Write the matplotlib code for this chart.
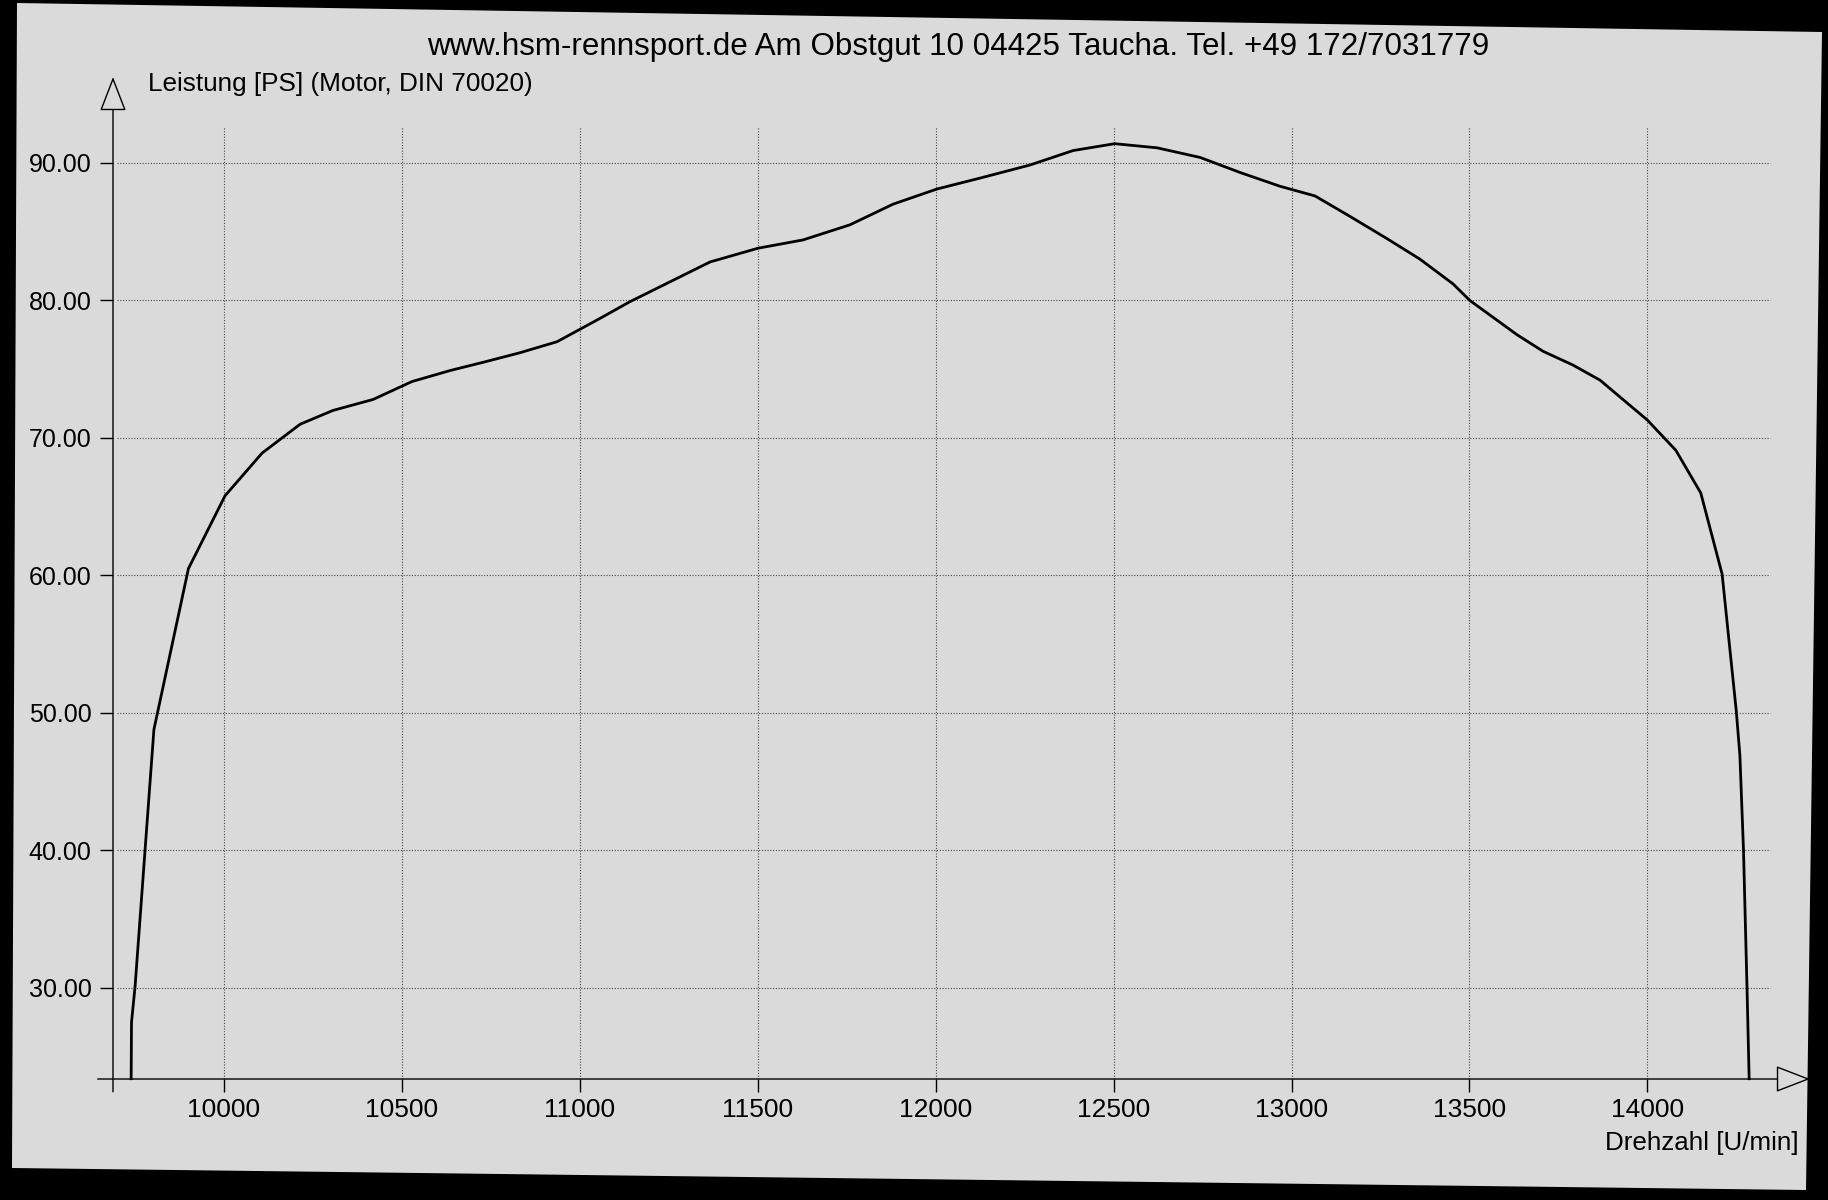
import matplotlib
matplotlib.use("Agg")
import matplotlib.pyplot as plt
from matplotlib.patches import Polygon, ArrowStyle

plt.rcParams["font.family"] = ["Liberation Sans", "DejaVu Sans"]

rpm = [9739, 9740, 9750, 9778, 9803, 9900, 10003, 10107, 10214, 10306,
       10419, 10528, 10635, 10728, 10832, 10936, 11057, 11140, 11366, 11501,
       11627, 11759, 11880, 12003, 12125, 12265, 12386, 12503, 12622, 12743,
       12856, 12968, 13066, 13165, 13268, 13361, 13454, 13501, 13634, 13707,
       13791, 13867, 14000, 14080, 14150, 14210, 14250, 14260, 14270, 14280,
       14286]
ps = [23.4, 27.5, 30.1, 40.0, 48.8, 60.5, 65.8, 68.9, 71.0, 72.0,
      72.8, 74.1, 74.9, 75.5, 76.2, 77.0, 78.7, 79.9, 82.8, 83.8,
      84.4, 85.5, 87.0, 88.1, 88.9, 89.85, 90.9, 91.4, 91.1, 90.4,
      89.3, 88.3, 87.6, 86.1, 84.5, 83.0, 81.2, 80.0, 77.5, 76.3,
      75.3, 74.2, 71.3, 69.1, 66.0, 60.1, 50.1, 46.9, 40.1, 30.0,
      23.4]

x_ticks = [10000, 10500, 11000, 11500, 12000, 12500, 13000, 13500, 14000]
y_ticks = [30, 40, 50, 60, 70, 80, 90]

title = "www.hsm-rennsport.de Am Obstgut 10 04425 Taucha. Tel. +49 172/7031779"
ylabel = "Leistung [PS] (Motor, DIN 70020)"
xlabel = "Drehzahl [U/min]"

W, H = 1828, 1200
paper = "#dadada"
xmin, xmax = 9688, 14457
ymin, ymax = 23.38, 96.25

fig = plt.figure(figsize=(W / 100, H / 100), dpi=100, facecolor="black")

# gescanntes Blatt auf schwarzem Grund
corners = [(17, 3), (1822, 32), (1806, 1190), (12, 1168)]
fig.add_artist(Polygon([(x / W, 1 - y / H) for x, y in corners],
                       closed=True, transform=fig.transFigure,
                       fc=paper, ec="none", zorder=0))

ax = fig.add_axes([113 / W, 1 - 1079 / H, (1810 - 113) / W, (1079 - 77) / H])
ax.set_facecolor("none")
ax.set_xlim(xmin, xmax)
ax.set_ylim(ymin, ymax)
for s in ax.spines.values():
    s.set_visible(False)

ax.set_xticks(x_ticks)
ax.set_xticklabels([str(t) for t in x_ticks], fontsize=19)
ax.set_yticks(y_ticks)
ax.set_yticklabels([f"{t:.2f}" for t in y_ticks], fontsize=18)
ax.tick_params(axis="both", direction="out", length=9.5, width=1,
               color="black", labelcolor="black")
ax.tick_params(axis="x", pad=4)
ax.tick_params(axis="y", pad=6)

# gepunktetes Gitter
ax.hlines(y_ticks, 9700, 14345, colors="#4a4a4a", lw=0.8,
          linestyles=(0, (1, 1.5)), zorder=1)
ax.vlines(x_ticks, ymin, 92.6, colors="#4a4a4a", lw=0.8,
          linestyles=(0, (1, 1.5)), zorder=1)

# Achsen mit offenen Pfeilspitzen
head = ArrowStyle("-|>", head_length=2.2, head_width=0.85)
arrow_kw = dict(arrowstyle=head, mutation_scale=10, fc=paper, ec="black",
                lw=1, shrinkA=0, shrinkB=0)
ax.annotate("", xy=(xmax, ymin), xytext=(9645, ymin),
            arrowprops=arrow_kw, annotation_clip=False, zorder=5)
ax.annotate("", xy=(xmin, ymax), xytext=(xmin, 22.45),
            arrowprops=arrow_kw, annotation_clip=False, zorder=5)

ax.plot(rpm, ps, color="black", lw=2.0, zorder=4, clip_on=False)

fig.text(958 / W, 1 - 47 / H, title, ha="center", va="center", fontsize=22.6)
fig.text(148 / W, 1 - 84 / H, ylabel, ha="left", va="center", fontsize=18.8)
fig.text(1799 / W, 1 - 1143 / H, xlabel, ha="right", va="center", fontsize=18.7)

fig.savefig("out.png", dpi=100, facecolor=fig.get_facecolor())
